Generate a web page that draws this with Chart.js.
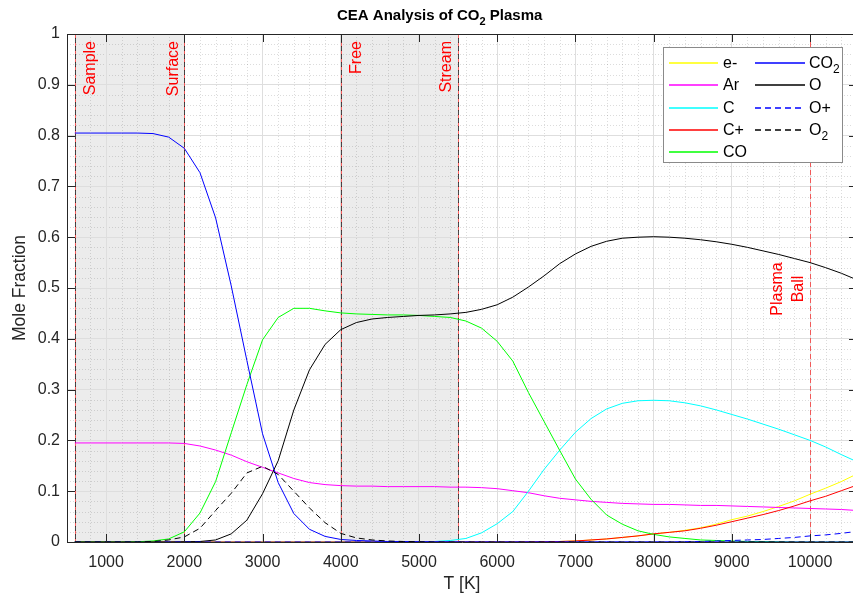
<!DOCTYPE html>
<html>
<head>
<meta charset="utf-8">
<title>CEA Analysis of CO2 Plasma</title>
<script src="https://cdn.jsdelivr.net/npm/chart.js@4.4.1/dist/chart.umd.min.js"></script>
<style>
  html, body { margin: 0; padding: 0; background: #fff; overflow: hidden; }
  #cea-chart { display: block; }
</style>
</head>
<body>
<canvas id="cea-chart" width="862" height="596"></canvas>
<script>
// Equilibrium composition from CEA, sampled every 200 K
const temps = [
    600, 800, 1000, 1200, 1400, 1600, 1800, 2000, 2200, 2400,
    2600, 2800, 3000, 3200, 3400, 3600, 3800, 4000, 4200, 4400,
    4600, 4800, 5000, 5200, 5400, 5600, 5800, 6000, 6200, 6400,
    6600, 6800, 7000, 7200, 7400, 7600, 7800, 8000, 8200, 8400,
    8600, 8800, 9000, 9200, 9400, 9600, 9800, 10000, 10200, 10400,
    10600
];

const electron = [
    0, 0, 0, 0, 0, 0, 0, 0, 0, 0,
    0, 0, 0, 0, 0, 0, 0, 0, 0, 0,
    0, 0, 0, 0, 0, 0, 0, 0, 0, 0.0003,
    0.0006, 0.001, 0.002, 0.004, 0.006, 0.009, 0.012, 0.016, 0.019, 0.023,
    0.028, 0.035, 0.044, 0.051, 0.060, 0.070, 0.081, 0.094, 0.106, 0.119,
    0.134
];
const argon = [
    0.195, 0.195, 0.195, 0.195, 0.195, 0.195, 0.195, 0.194, 0.189, 0.181,
    0.171, 0.158, 0.147, 0.136, 0.125, 0.117, 0.113, 0.111, 0.110, 0.110,
    0.109, 0.109, 0.109, 0.109, 0.108, 0.108, 0.107, 0.105, 0.101, 0.097,
    0.091, 0.086, 0.083, 0.080, 0.078, 0.076, 0.075, 0.074, 0.074, 0.073,
    0.072, 0.072, 0.071, 0.070, 0.069, 0.068, 0.067, 0.066, 0.065, 0.064,
    0.062
];
const carbon = [
    0, 0, 0, 0, 0, 0, 0, 0, 0, 0,
    0, 0, 0, 0, 0, 0, 0, 0, 0, 0,
    0, 0, 0.0003, 0.001, 0.003, 0.007, 0.018, 0.036, 0.060, 0.100,
    0.143, 0.181, 0.216, 0.243, 0.262, 0.273, 0.278, 0.279, 0.278, 0.274,
    0.268, 0.260, 0.251, 0.242, 0.232, 0.222, 0.211, 0.200, 0.187, 0.172,
    0.158
];
const carbonIon = [
    0, 0, 0, 0, 0, 0, 0, 0, 0, 0,
    0, 0, 0, 0, 0, 0, 0, 0, 0, 0,
    0, 0, 0, 0, 0, 0, 0, 0, 0, 0.0003,
    0.0006, 0.001, 0.002, 0.004, 0.006, 0.009, 0.012, 0.016, 0.019, 0.022,
    0.027, 0.033, 0.040, 0.047, 0.054, 0.062, 0.071, 0.081, 0.090, 0.101,
    0.112
];
const carbonMonoxide = [
    0, 0, 0, 0, 0.0005, 0.002, 0.006, 0.020, 0.057, 0.119,
    0.215, 0.310, 0.398, 0.442, 0.460, 0.460, 0.455, 0.451, 0.449, 0.448,
    0.447, 0.447, 0.446, 0.444, 0.442, 0.435, 0.421, 0.395, 0.356, 0.294,
    0.237, 0.180, 0.124, 0.084, 0.053, 0.035, 0.022, 0.015, 0.010, 0.007,
    0.004, 0.003, 0.002, 0.001, 0.001, 0.0005, 0, 0, 0, 0,
    0
];
const carbonDioxide = [
    0.805, 0.805, 0.805, 0.805, 0.805, 0.804, 0.797, 0.775, 0.727, 0.638,
    0.504, 0.357, 0.213, 0.117, 0.056, 0.025, 0.011, 0.005, 0.003, 0.002,
    0.001, 0.001, 0.0005, 0.0003, 0.0002, 0, 0, 0, 0, 0,
    0, 0, 0, 0, 0, 0, 0, 0, 0, 0,
    0, 0, 0, 0, 0, 0, 0, 0, 0, 0,
    0
];
const oxygen = [
    0, 0, 0, 0, 0, 0, 0, 0.0005, 0.001, 0.004,
    0.016, 0.043, 0.095, 0.160, 0.260, 0.339, 0.389, 0.418, 0.432, 0.439,
    0.442, 0.444, 0.446, 0.447, 0.449, 0.452, 0.458, 0.467, 0.482, 0.502,
    0.524, 0.548, 0.567, 0.582, 0.592, 0.598, 0.600, 0.601, 0.600, 0.598,
    0.595, 0.591, 0.586, 0.580, 0.573, 0.566, 0.558, 0.550, 0.540, 0.529,
    0.516
];
const oxygenIon = [
    0, 0, 0, 0, 0, 0, 0, 0, 0, 0,
    0, 0, 0, 0, 0, 0, 0, 0, 0, 0,
    0, 0, 0, 0, 0, 0, 0, 0, 0, 0,
    0, 0, 0, 0, 0, 0, 0, 0, 0, 0.0005,
    0.001, 0.002, 0.003, 0.004, 0.005, 0.007, 0.009, 0.012, 0.014, 0.017,
    0.021
];
const dioxygen = [
    0, 0, 0, 0, 0, 0.001, 0.004, 0.010, 0.027, 0.062,
    0.096, 0.136, 0.149, 0.133, 0.100, 0.067, 0.038, 0.017, 0.008, 0.004,
    0.002, 0.001, 0.0005, 0, 0, 0, 0, 0, 0, 0,
    0, 0, 0, 0, 0, 0, 0, 0, 0, 0,
    0, 0, 0, 0, 0, 0, 0, 0, 0, 0,
    0
];

const xTicks = [1000, 2000, 3000, 4000, 5000, 6000, 7000, 8000, 9000, 10000];
const xTickLabels = ['1000', '2000', '3000', '4000', '5000', '6000', '7000', '8000', '9000', '10000'];
const yTicks = [0, 0.1, 0.2, 0.3, 0.4, 0.5, 0.6, 0.7, 0.8, 0.9, 1];
const yTickLabels = ['0', '0.1', '0.2', '0.3', '0.4', '0.5', '0.6', '0.7', '0.8', '0.9', '1'];

// shaded regions and marker lines
const bands = [[600, 2000], [4000, 5500]];
const markers = [
    { t: 600, text: ['Sample'], side: 'right', valign: 'top', edge: true },
    { t: 2000, text: ['Surface'], side: 'left', valign: 'top', edge: true },
    { t: 4000, text: ['Free'], side: 'right', valign: 'top', edge: true },
    { t: 5500, text: ['Stream'], side: 'left', valign: 'top', edge: true },
    { t: 10000, text: ['Plasma', 'Ball'], side: 'left', valign: 'middle', edge: false }
];

const species = ['e-', 'Ar', 'C', 'C+', 'CO', 'CO_2', 'O', 'O+', 'O_2'];
const seriesData = [electron, argon, carbon, carbonIon, carbonMonoxide, carbonDioxide, oxygen, oxygenIon, dioxygen];
const seriesColor = ['#ffff00', '#ff00ff', '#00ffff', '#ff0000', '#00ff00', '#0000ff', '#000000', '#0000ff', '#000000'];
const seriesDash = [[], [], [], [], [], [], [], [6, 4], [6, 4]];

const FONT = "'Liberation Sans', Arial, Helvetica, sans-serif";
const AXIS = '#262626';

// draws text where "_x" is a subscript, e.g. CO_2
function richText(ctx, str, x, y, size, weight) {
    const [base, sub] = str.split('_');
    ctx.font = `${weight} ${size}px ${FONT}`;
    ctx.fillText(base, x, y);
    let w = ctx.measureText(base).width;
    if (sub !== undefined) {
        ctx.font = `${weight} ${Math.round(size * 0.72)}px ${FONT}`;
        ctx.fillText(sub, x + w, y + size * 0.35);
        w += ctx.measureText(sub).width;
    }
    return w;
}

const decor = {
    id: 'decor',
    beforeDraw(chart) {
        const { ctx, chartArea: a, scales: { x, y } } = chart;
        ctx.save();
        ctx.fillStyle = 'rgba(0, 0, 0, 0.075)';
        bands.forEach(([t0, t1]) => {
            const x0 = x.getPixelForValue(t0), x1 = x.getPixelForValue(t1);
            ctx.fillRect(x0, a.top, x1 - x0, a.bottom - a.top);
        });
        // minor grid, dotted
        ctx.strokeStyle = 'rgba(38, 38, 38, 0.16)';
        ctx.lineWidth = 1;
        ctx.setLineDash([1, 2]);
        ctx.beginPath();
        for (let t = 600; t < 10600; t += 200) {
            if (t % 1000 === 0) continue;
            const px = Math.round(x.getPixelForValue(t)) + 0.5;
            ctx.moveTo(px, a.top);
            ctx.lineTo(px, a.bottom);
        }
        for (let k = 1; k < 50; k++) {
            if (k % 5 === 0) continue;
            const py = Math.round(y.getPixelForValue(k * 0.02)) + 0.5;
            ctx.moveTo(a.left, py);
            ctx.lineTo(a.right, py);
        }
        ctx.stroke();
        ctx.restore();
    },
    beforeDatasetsDraw(chart) {
        const { ctx, chartArea: a, scales: { x } } = chart;
        ctx.save();
        ctx.lineWidth = 1;
        markers.forEach(m => {
            const px = Math.round(x.getPixelForValue(m.t)) + 0.5;
            ctx.setLineDash([5, 3]);
            ctx.lineDashOffset = 0;
            ctx.strokeStyle = 'rgba(255, 0, 0, 0.6)';
            ctx.beginPath();
            ctx.moveTo(px, a.top);
            ctx.lineTo(px, a.bottom);
            ctx.stroke();
            if (m.edge) {
                ctx.lineDashOffset = 4;
                ctx.strokeStyle = 'rgba(30, 30, 30, 0.8)';
                ctx.beginPath();
                ctx.moveTo(px, a.top);
                ctx.lineTo(px, a.bottom);
                ctx.stroke();
            }
        });
        ctx.restore();
    },
    afterDatasetsDraw(chart) {
        const { ctx, chartArea: a, scales: { x, y } } = chart;
        ctx.save();
        // box and inward ticks
        ctx.strokeStyle = AXIS;
        ctx.lineWidth = 1;
        ctx.beginPath();
        ctx.moveTo(a.left, a.top + 0.5);
        ctx.lineTo(a.right, a.top + 0.5);
        ctx.moveTo(a.right - 0.5, a.top);
        ctx.lineTo(a.right - 0.5, a.bottom);
        xTicks.forEach(t => {
            const px = Math.round(x.getPixelForValue(t)) + 0.5;
            ctx.moveTo(px, a.bottom);
            ctx.lineTo(px, a.bottom - 8);
            ctx.moveTo(px, a.top);
            ctx.lineTo(px, a.top + 8);
        });
        yTicks.forEach(v => {
            const py = Math.round(y.getPixelForValue(v)) + 0.5;
            ctx.moveTo(a.left, py);
            ctx.lineTo(a.left + 8, py);
            ctx.moveTo(a.right, py);
            ctx.lineTo(a.right - 8, py);
        });
        ctx.stroke();

        // marker labels, rotated
        ctx.fillStyle = '#ff0000';
        ctx.font = `16px ${FONT}`;
        ctx.textBaseline = 'middle';
        markers.forEach(m => {
            const px = x.getPixelForValue(m.t);
            const n = m.text.length;
            m.text.forEach((line, i) => {
                const off = m.side === 'right' ? 16 + i * 21 : -11 - (n - 1 - i) * 21;
                ctx.save();
                if (m.valign === 'top') {
                    ctx.translate(px + off, a.top + 7);
                    ctx.rotate(-Math.PI / 2);
                    ctx.textAlign = 'right';
                } else {
                    ctx.translate(px + off, (a.top + a.bottom) / 2 + 1);
                    ctx.rotate(-Math.PI / 2);
                    ctx.textAlign = 'center';
                }
                ctx.fillText(line, 0, 0);
                ctx.restore();
            });
        });
        ctx.restore();
    },
    afterDraw(chart) {
        const { ctx } = chart;
        ctx.save();
        // title
        ctx.fillStyle = '#000';
        ctx.textAlign = 'left';
        ctx.textBaseline = 'alphabetic';
        let tx = 337;
        tx += richText(ctx, 'CEA Analysis of CO_2', tx, 20, 15, 'bold');
        ctx.font = `bold 15px ${FONT}`;
        ctx.fillText(' Plasma', tx, 20);

        // legend, two columns
        const box = { left: 663.5, top: 47.5, w: 179, h: 115 };
        ctx.fillStyle = '#fff';
        ctx.fillRect(box.left, box.top, box.w, box.h);
        ctx.strokeStyle = '#8a8a8a';
        ctx.lineWidth = 1;
        ctx.strokeRect(box.left, box.top, box.w, box.h);
        const cols = [{ x0: 669, x1: 718, tx: 723 }, { x0: 755, x1: 805, tx: 809 }];
        species.forEach((name, i) => {
            const col = cols[i < 5 ? 0 : 1];
            const row = i < 5 ? i : i - 5;
            const ly = Math.round(63 + row * 22.3);
            ctx.lineWidth = 1.5;
            ctx.strokeStyle = seriesColor[i];
            ctx.setLineDash(seriesDash[i]);
            ctx.beginPath();
            ctx.moveTo(col.x0, ly);
            ctx.lineTo(col.x1, ly);
            ctx.stroke();
            ctx.setLineDash([]);
            ctx.fillStyle = '#000';
            ctx.textBaseline = 'middle';
            richText(ctx, name, col.tx, ly + 1, 16, 'normal');
        });
        ctx.restore();
    }
};

const datasets = species.map((name, i) => ({
    label: name,
    data: temps.map((t, k) => ({ x: t, y: seriesData[i][k] })),
    borderColor: seriesColor[i],
    borderDash: seriesDash[i],
    borderWidth: 1,
    pointRadius: 0,
    fill: false,
    tension: 0,
    order: species.length - i
}));

new Chart(document.getElementById('cea-chart').getContext('2d'), {
    type: 'line',
    data: { datasets },
    options: {
        responsive: false,
        animation: false,
        layout: { padding: { top: 34, right: 5, left: 0, bottom: 0 } },
        plugins: {
            legend: { display: false },
            tooltip: { enabled: false },
            title: { display: false }
        },
        scales: {
            x: {
                type: 'linear',
                min: 500,
                max: 10600,
                afterBuildTicks: axis => { axis.ticks = xTicks.map(v => ({ value: v })); },
                afterFit: scale => { scale.height = 54; },
                grid: { color: '#dedede', drawTicks: false },
                border: { color: AXIS },
                ticks: {
                    autoSkip: false,
                    maxRotation: 0,
                    padding: 11,
                    color: AXIS,
                    font: { family: FONT, size: 16 },
                    callback: (v, i) => xTickLabels[i]
                },
                title: {
                    display: true,
                    text: 'T [K]',
                    color: AXIS,
                    font: { family: FONT, size: 17.5 },
                    padding: { top: 0, bottom: 1 }
                }
            },
            y: {
                min: 0,
                max: 1,
                afterBuildTicks: axis => { axis.ticks = yTicks.map(v => ({ value: v })); },
                afterFit: scale => { scale.width = 67; },
                grid: { color: '#dedede', drawTicks: false },
                border: { color: AXIS },
                ticks: {
                    padding: 7,
                    color: AXIS,
                    font: { family: FONT, size: 16 },
                    callback: (v, i) => yTickLabels[i]
                },
                title: {
                    display: true,
                    text: 'Mole Fraction',
                    color: AXIS,
                    font: { family: FONT, size: 17.5 },
                    padding: { top: 10, bottom: 0 }
                }
            }
        }
    },
    plugins: [decor]
});
</script>
</body>
</html>
